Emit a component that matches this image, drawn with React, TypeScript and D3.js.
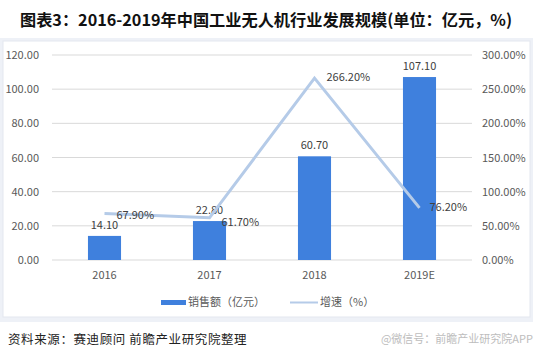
import React from "react";
import * as d3 from "d3";

const categories = ["2016", "2017", "2018", "2019E"];
const sales = [14.1, 22.8, 60.7, 107.1];
const growth = [67.9, 61.7, 266.2, 76.2];
const leftTicks = [0, 20, 40, 60, 80, 100, 120];
const rightTicks = [0, 50, 100, 150, 200, 250, 300];

const W = 536, H = 360;
const FONT = "'Noto Sans CJK SC', 'Microsoft YaHei', sans-serif";

export default function App() {
  const x = d3.scaleBand<string>().domain(categories).range([52, 472]).paddingInner(0.685).paddingOuter(0.3425);
  const yL = d3.scaleLinear().domain([0, 120]).range([260, 55]);
  const yR = d3.scaleLinear().domain([0, 300]).range([260, 55]);
  const cx = (c: string) => (x(c) as number) + x.bandwidth() / 2;
  const line = d3.line<number>().x((_, i) => cx(categories[i])).y((d) => yR(d));
  const labelOffsets = [
    { dx: 12, dy: 5 },
    { dx: 12, dy: 8 },
    { dx: 12, dy: 3 },
    { dx: 10, dy: 3 },
  ];
  return (
    <svg width={W} height={H} style={{ position: "absolute", left: 0, top: 0, background: "#fff" }} fontFamily={FONT}>
      <rect x={0} y={0} width={W} height={H} fill="#fff" />
      <text x={20} y={26} fontSize={16.2} fontWeight="bold" fill="#111">
        图表3：2016-2019年中国工业无人机行业发展规模(单位：亿元，%)
      </text>
      <rect x={0} y={38} width={533} height={284} fill="#eef1f7" />
      <rect x={3} y={41} width={527} height={276} fill="#fff" stroke="#e3e7ef" />
      {leftTicks.map((t) => (
        <g key={t}>
          <line x1={52} x2={472} y1={yL(t)} y2={yL(t)} stroke="#d9d9d9" strokeWidth={1} />
          <text x={39} y={yL(t) + 4} textAnchor="end" fontSize={11} fill="#595959">
            {t.toFixed(2)}
          </text>
        </g>
      ))}
      {rightTicks.map((t) => (
        <text key={t} x={482} y={yR(t) + 4} fontSize={11} fill="#595959">
          {t.toFixed(2)}%
        </text>
      ))}
      {categories.map((c, i) => (
        <g key={c}>
          <rect x={x(c)} y={yL(sales[i])} width={x.bandwidth()} height={260 - yL(sales[i])} fill="#3f80dd" />
          <text x={cx(c)} y={yL(sales[i]) - 7} textAnchor="middle" fontSize={11} fill="#404040">
            {sales[i].toFixed(2)}
          </text>
          <text x={cx(c)} y={279} textAnchor="middle" fontSize={11} fill="#595959">
            {c}
          </text>
        </g>
      ))}
      <path d={line(growth) || ""} fill="none" stroke="#b5cbe8" strokeWidth={3} />
      {categories.map((c, i) => (
        <text key={c} x={cx(c) + labelOffsets[i].dx} y={yR(growth[i]) + labelOffsets[i].dy} fontSize={11} fill="#404040">
          {growth[i].toFixed(2)}%
        </text>
      ))}
      <rect x={161} y={300} width={25} height={5} fill="#3f80dd" />
      <text x={188} y={306} fontSize={11} fill="#595959">销售额（亿元）</text>
      <line x1={290} x2={318} y1={302.5} y2={302.5} stroke="#b5cbe8" strokeWidth={2} />
      <text x={320} y={306} fontSize={11} fill="#595959">增速（%）</text>
      <text x={8} y={344} fontSize={12.5} fill="#222" letterSpacing={0.6}>资料来源：赛迪顾问 前瞻产业研究院整理</text>
      <text x={533} y={343} textAnchor="end" fontSize={11} fill="#bdbdbd">@微信号：前瞻产业研究院APP</text>
    </svg>
  );
}
